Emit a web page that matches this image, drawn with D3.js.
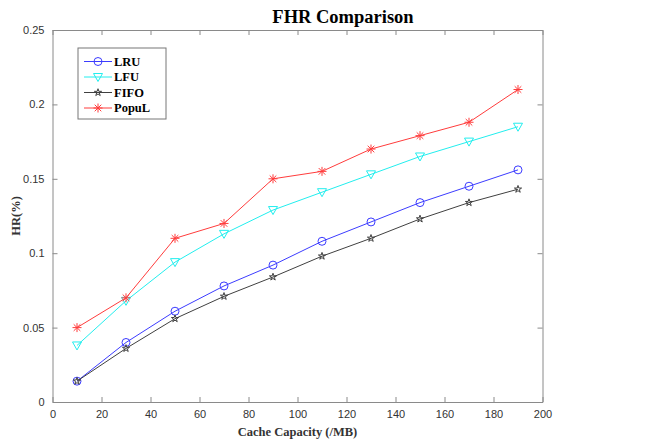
<!DOCTYPE html>
<html>
<head>
<meta charset="utf-8">
<script src="https://cdn.jsdelivr.net/npm/d3@7"></script>
<style>
  body { margin: 0; background: #fff; }
</style>
</head>
<body>
<div id="chart"></div>
<script>
// cache sizes (MB) and hit ratios per policy
const capacity = [10, 30, 50, 70, 90, 110, 130, 150, 170, 190];
const lru   = [0.014, 0.040, 0.061, 0.078, 0.092, 0.108, 0.121, 0.134, 0.145, 0.156];
const lfu   = [0.038, 0.068, 0.094, 0.113, 0.129, 0.141, 0.153, 0.165, 0.175, 0.185];
const fifo  = [0.014, 0.036, 0.056, 0.071, 0.084, 0.098, 0.110, 0.123, 0.134, 0.143];
const popul = [0.050, 0.070, 0.110, 0.120, 0.150, 0.155, 0.170, 0.179, 0.188, 0.210];

const xTicks = d3.range(0, 201, 20);
const yTicks = [0, 0.05, 0.1, 0.15, 0.2, 0.25];

const series = [
  { name: "LRU",   values: lru,   color: "#3c3cff", marker: "circle" },
  { name: "LFU",   values: lfu,   color: "#22eeee", marker: "triangle" },
  { name: "FIFO",  values: fifo,  color: "#404040", marker: "star" },
  { name: "PopuL", values: popul, color: "#ff3c3c", marker: "asterisk" }
];

const width = 660, height = 441;
const margin = { top: 30, right: 117.5, bottom: 39, left: 52.5 };
const iw = width - margin.left - margin.right;
const ih = height - margin.top - margin.bottom;

const sans = "'Liberation Sans', Arial, sans-serif";
const serif = "'Liberation Serif', 'Times New Roman', serif";

const svg = d3.select("#chart").append("svg")
  .attr("width", width).attr("height", height);

const g = svg.append("g").attr("transform", `translate(${margin.left},${margin.top})`);

const x = d3.scaleLinear().domain([0, 200]).range([0, iw]);
const y = d3.scaleLinear().domain([0, 0.25]).range([ih, 0]);

const axisColor = "#8a8a8a";
const labelColor = "#333";

// axes, ticks pointing inward like matlab
function styleAxis(sel) {
  sel.select(".domain").attr("stroke", axisColor);
  sel.selectAll(".tick line").attr("stroke", axisColor);
  sel.selectAll(".tick text").attr("fill", labelColor)
    .style("font-family", sans).style("font-size", "11px");
}

g.append("g").attr("transform", `translate(0,${ih})`)
  .call(d3.axisBottom(x).tickValues(xTicks).tickSize(-5).tickSizeOuter(0).tickPadding(8))
  .call(styleAxis);
g.append("g")
  .call(d3.axisLeft(y).tickValues(yTicks).tickFormat(d3.format("")).tickSize(-5).tickSizeOuter(0).tickPadding(8))
  .call(styleAxis);
g.append("g")
  .call(d3.axisTop(x).tickValues(xTicks).tickSize(-5).tickSizeOuter(0).tickFormat(""))
  .call(styleAxis);
g.append("g").attr("transform", `translate(${iw},0)`)
  .call(d3.axisRight(y).tickValues(yTicks).tickSize(-5).tickSizeOuter(0).tickFormat(""))
  .call(styleAxis);

// markers
function drawMarker(sel, type, color) {
  if (type === "circle") {
    sel.append("circle").attr("r", 4).attr("fill", "none").attr("stroke", color);
  } else if (type === "triangle") {
    sel.append("path").attr("d", "M-4.5,-3.5L4.5,-3.5L0,4.5Z").attr("fill", "none").attr("stroke", color);
  } else if (type === "star") {
    sel.append("path").attr("d", d3.symbol(d3.symbolStar, 16)()).attr("fill", "none").attr("stroke", color);
  } else {
    sel.append("path").attr("d", "M-4.5,0H4.5M0,-4.5V4.5M-3.3,-3.3L3.3,3.3M-3.3,3.3L3.3,-3.3")
      .attr("fill", "none").attr("stroke", color);
  }
}

const line = d3.line().x((d, i) => x(capacity[i])).y(d => y(d));

series.forEach(s => {
  g.append("path").datum(s.values)
    .attr("d", line).attr("fill", "none")
    .attr("stroke", s.color).attr("stroke-width", 1);
  g.selectAll(null).data(s.values).enter().append("g")
    .attr("transform", (d, i) => `translate(${x(capacity[i])},${y(d)})`)
    .each(function() { drawMarker(d3.select(this), s.marker, s.color); });
});

// legend
const lg = svg.append("g").attr("transform", "translate(78,48)");
lg.append("rect").attr("width", 88).attr("height", 71)
  .attr("fill", "#fff").attr("stroke", "#777");
series.forEach((s, i) => {
  const row = lg.append("g").attr("transform", `translate(0,${13.5 + i * 15.5})`);
  row.append("line").attr("x1", 6).attr("x2", 34).attr("stroke", s.color);
  drawMarker(row.append("g").attr("transform", "translate(20,0)"), s.marker, s.color);
  row.append("text").attr("x", 36).attr("dy", "0.35em")
    .style("font-family", serif).style("font-weight", "bold").style("font-size", "12.5px")
    .text(s.name);
});

// titles
svg.append("text").attr("x", 343).attr("y", 23)
  .attr("text-anchor", "middle")
  .style("font-family", serif).style("font-weight", "bold").style("font-size", "18.5px")
  .text("FHR Comparison");
svg.append("text").attr("x", margin.left + iw / 2).attr("y", 436)
  .attr("text-anchor", "middle").attr("fill", "#333")
  .style("font-family", serif).style("font-weight", "bold").style("font-size", "12.5px")
  .text("Cache Capacity (/MB)");
svg.append("text").attr("transform", `translate(20,${margin.top + ih / 2}) rotate(-90)`)
  .attr("text-anchor", "middle").attr("fill", "#333")
  .style("font-family", serif).style("font-weight", "bold").style("font-size", "12.5px")
  .text("HR(%)");
</script>
</body>
</html>
